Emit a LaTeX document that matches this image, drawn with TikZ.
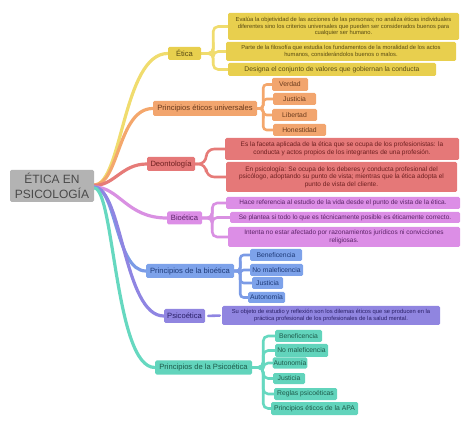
\documentclass[tikz,border=0pt]{standalone}
\usepackage{fontspec}
\setmainfont{Liberation Sans}
\usetikzlibrary{backgrounds}
\definecolor{yelB}{HTML}{E8CF4E}
\definecolor{yelL}{HTML}{F0DC6E}
\definecolor{yelT}{HTML}{5A4B12}
\definecolor{oraB}{HTML}{F2A56E}
\definecolor{oraL}{HTML}{F4A76C}
\definecolor{oraT}{HTML}{6A3A1C}
\definecolor{redB}{HTML}{E57878}
\definecolor{redL}{HTML}{E67B78}
\definecolor{redT}{HTML}{6E2020}
\definecolor{orcB}{HTML}{DC8EE6}
\definecolor{orcL}{HTML}{D990E2}
\definecolor{orcT}{HTML}{5C2468}
\definecolor{bluB}{HTML}{7DA2EA}
\definecolor{bluL}{HTML}{7B9BE6}
\definecolor{bluT}{HTML}{1E3A78}
\definecolor{purB}{HTML}{9085E0}
\definecolor{purL}{HTML}{8F85E2}
\definecolor{purT}{HTML}{2A2068}
\definecolor{teaB}{HTML}{62D4BC}
\definecolor{teaL}{HTML}{66D8C0}
\definecolor{teaT}{HTML}{1D5A4A}
\definecolor{rootB}{HTML}{B3B3B3}
\definecolor{rootT}{HTML}{4A4A4A}
\begin{document}
\begin{tikzpicture}[x=1pt,y=-1pt,
  box/.style={rounded corners=1.5pt, inner sep=1pt, align=center},
  lone/.style={box, font=\fontsize{7.6}{8.8}\selectfont},
  leaf/.style={box, font=\fontsize{6.8}{7.6}\selectfont},
  note/.style={box, font=\fontsize{5.8}{6.9}\selectfont},
  notebig/.style={box, font=\fontsize{6.5}{7.7}\selectfont},
  yel/.style={fill=yelB, text=yelT},
  ora/.style={fill=oraB, text=oraT},
  red/.style={fill=redB, text=redT},
  orc/.style={fill=orcB, text=orcT},
  blu/.style={fill=bluB, text=bluT},
  pur/.style={fill=purB, text=purT},
  tea/.style={fill=teaB, text=teaT},
  branch/.style={line width=3.2pt, line cap=round},
  bracelink/.style={line width=2.6pt, line cap=round, rounded corners=5pt},
]
\useasboundingbox (0,0) rectangle (474,430);

% root
\node[box, fill=rootB, text=rootT, minimum width=84pt, minimum height=32pt,
  font=\fontsize{12}{14.5}\selectfont] (root) at (52,186) {ÉTICA EN\\PSICOLOGÍA};

% level 1
\node[lone, yel, minimum width=33pt, minimum height=13pt] (etica) at (184.5,53.5) {Ética};
\node[lone, ora, minimum width=104pt, minimum height=15pt] (peu) at (205,108.5) {Principios éticos universales};
\node[lone, red, minimum width=48pt, minimum height=14pt] (deon) at (171,164) {Deontología};
\node[lone, orc, minimum width=35pt, minimum height=13pt] (bio) at (184.5,218) {Bioética};
\node[lone, blu, minimum width=88pt, minimum height=14pt] (pbio) at (190,271) {Principios de la bioética};
\node[lone, pur, minimum width=41pt, minimum height=14pt] (psi) at (184.5,316) {Psicoética};
\node[lone, tea, minimum width=97pt, minimum height=14pt] (ppsi) at (203.5,367.5) {Principios de la Psicoética};

% Ética children
\node[note, yel, minimum width=231pt, minimum height=27pt] (e1) at (343.5,26.5)
  {Evalúa la objetividad de las acciones de las personas; no analiza éticas individuales\\diferentes sino los criterios universales que pueden ser considerados buenos para\\cualquier ser humano.};
\node[note, yel, minimum width=230pt, minimum height=19pt] (e2) at (341,51.5)
  {Parte de la filosofía que estudia los fundamentos de la moralidad de los actos\\humanos, considerándolos buenos o malos.};
\node[box, yel, font=\fontsize{6.8}{7.8}\selectfont, minimum width=208pt, minimum height=13pt] (e3) at (332,69.5)
  {Designa el conjunto de valores que gobiernan la conducta};

% Principios éticos universales children
\node[leaf, ora, minimum width=36pt, minimum height=13pt] (v1) at (290,84.5) {Verdad};
\node[leaf, ora, minimum width=43pt, minimum height=12pt] (v2) at (294.5,99) {Justicia};
\node[leaf, ora, minimum width=45pt, minimum height=12pt] (v3) at (294.5,115) {Libertad};
\node[leaf, ora, minimum width=53pt, minimum height=12pt] (v4) at (299.5,130) {Honestidad};

% Deontología children
\node[notebig, red, minimum width=234pt, minimum height=22pt] (d1) at (342,149)
  {Es la faceta aplicada de la ética que se ocupa de los profesionistas: la\\conducta y actos propios de los integrantes de una profesión.};
\node[notebig, red, minimum width=231pt, minimum height=30pt] (d2) at (341.5,177)
  {En psicología: Se ocupa de los deberes y conducta profesional del\\psicólogo, adoptando su punto de vista; mientras que la ética adopta el\\punto de vista del cliente.};

% Bioética children
\node[notebig, orc, minimum width=234pt, minimum height=12pt] (b1) at (343,203)
  {Hace referencia al estudio de la vida desde el punto de vista de la ética.};
\node[notebig, orc, minimum width=230pt, minimum height=11pt] (b2) at (345,217.5)
  {Se plantea si todo lo que es técnicamente posible es éticamente correcto.};
\node[notebig, orc, minimum width=232pt, minimum height=20pt] (b3) at (344,237)
  {Intenta no estar afectado por razonamientos jurídicos ni convicciones\\religiosas.};

% Principios de la bioética children
\node[leaf, blu, minimum width=52pt, minimum height=12pt] (pb1) at (276,255) {Beneficencia};
\node[leaf, blu, minimum width=53pt, minimum height=12pt] (pb2) at (276.5,270) {No maleficencia};
\node[leaf, blu, minimum width=31pt, minimum height=12pt] (pb3) at (267.5,283) {Justicia};
\node[leaf, blu, minimum width=37pt, minimum height=11pt] (pb4) at (266.5,297.5) {Autonomía};

% Psicoética child
\node[note, pur, minimum width=218pt, minimum height=19pt] (p1) at (331,315.5)
  {Su objeto de estudio y reflexión son los dilemas éticos que se producen en la\\práctica profesional de los profesionales de la salud mental.};

% Principios de la Psicoética children
\node[leaf, tea, minimum width=47pt, minimum height=12pt] (pp1) at (298.5,336) {Beneficencia};
\node[leaf, tea, minimum width=53pt, minimum height=13pt] (pp2) at (301.5,350.5) {No maleficencia};
\node[leaf, tea, minimum width=32pt, minimum height=11pt] (pp3) at (290,363) {Autonomía};
\node[leaf, tea, minimum width=32pt, minimum height=11pt] (pp4) at (289,378.5) {Justicia};
\node[leaf, tea, minimum width=63pt, minimum height=12pt] (pp5) at (305.5,394) {Reglas psicoéticas};
\node[leaf, tea, minimum width=87pt, minimum height=13pt] (pp6) at (314.5,408.5) {Principios éticos de la APA};

\begin{scope}[on background layer]
% main branches
\draw[branch, yelL] ([yshift=1pt]root.east) to[out=0,in=180,out distance=28pt,in distance=45pt] (etica.west);
\draw[branch, oraL] ([yshift=1pt]root.east) to[out=0,in=180,out distance=25pt,in distance=35pt] (peu.west);
\draw[branch, redL] ([yshift=0.5pt]root.east) to[out=0,in=180,out distance=20pt,in distance=25pt] (deon.west);
\draw[branch, orcL] ([yshift=-1pt]root.east) to[out=0,in=180,out distance=25pt,in distance=40pt] (bio.west);
\draw[branch, bluL] ([yshift=-1pt]root.east) to[out=0,in=180,out distance=22pt,in distance=30pt] (pbio.west);
\draw[branch, purL] ([yshift=-1.5pt]root.east) to[out=0,in=180,out distance=28pt,in distance=40pt] (psi.west);
\draw[branch, teaL] ([yshift=-2pt]root.east) to[out=0,in=180,out distance=20pt,in distance=40pt] (ppsi.west);

% braces
\foreach \c in {e1,e2,e3} \draw[bracelink, yelL] (etica.east) -- ++(12,0) |- (\c.west);
\foreach \c in {v1,v2,v3,v4} \draw[bracelink, oraL, rounded corners=3.5pt] (peu.east) -- ++(6,0) |- (\c.west);
\foreach \c in {d1,d2} \draw[bracelink, redL, rounded corners=8pt] (deon.east) -- ++(11,0) |- (\c.west);
\foreach \c in {b1,b2,b3} \draw[bracelink, orcL] (bio.east) -- ++(10,0) |- (\c.west);
\foreach \c in {pb1,pb2,pb3,pb4} \draw[bracelink, bluL, rounded corners=3.5pt] (pbio.east) -- ++(6,0) |- (\c.west);
\draw[bracelink, purL, shorten <=3pt, shorten >=2pt] (psi.east) -- (p1.west);
\foreach \c in {pp1,pp2,pp3,pp4,pp5,pp6} \draw[bracelink, teaL] (ppsi.east) -- ++(11,0) |- (\c.west);
\end{scope}
\end{tikzpicture}
\end{document}
